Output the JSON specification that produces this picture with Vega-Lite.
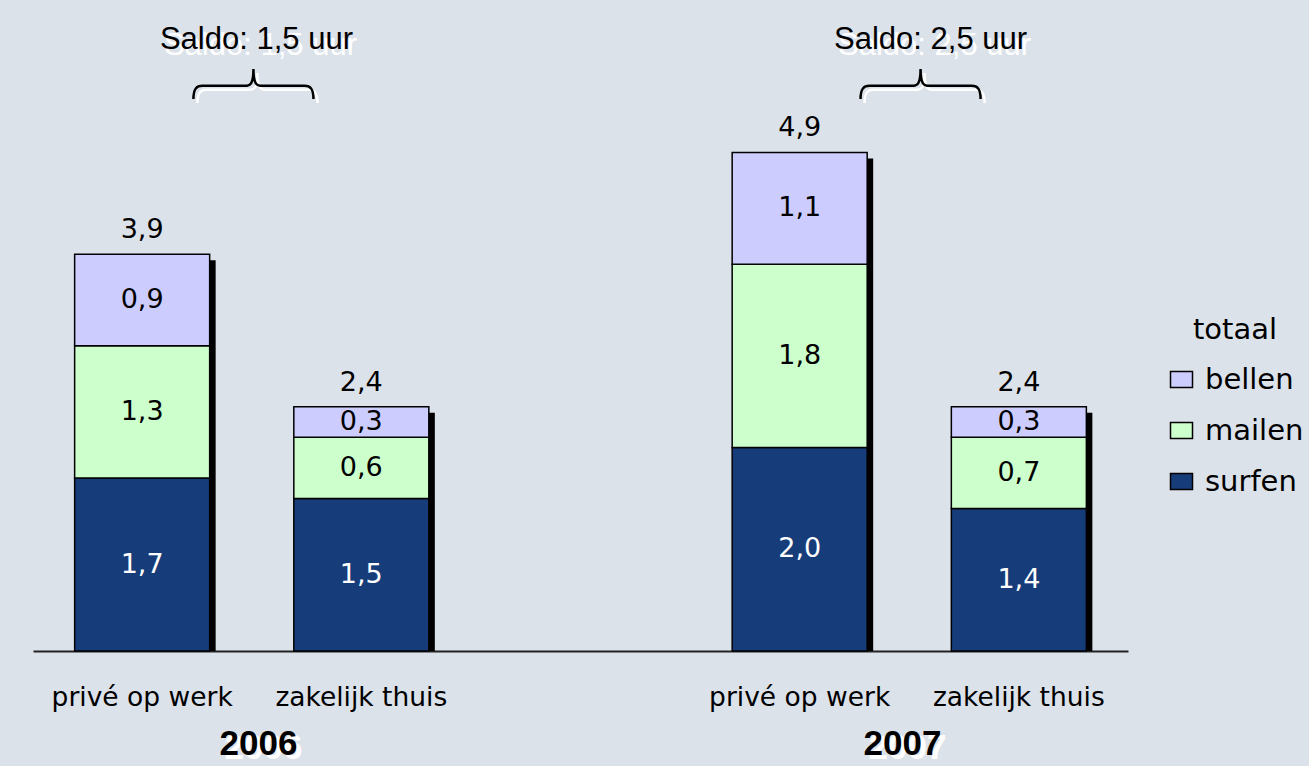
{
  "$schema": "https://vega.github.io/schema/vega-lite/v6.json",
  "width": 1095,
  "height": 640,
  "padding": {"left": 33, "top": 11, "right": 5, "bottom": 5},
  "background": "#dce2ea",
  "config": {
    "view": {"stroke": null},
    "font": "DejaVu Sans",
    "locale": {"number": {"decimal": ",", "thousands": ".", "grouping": [3], "currency": ["€", ""]}}
  },
  "datasets": {
    "bars": [
      {"bar": "2006 privé op werk", "activity": "surfen", "value": 1.7},
      {"bar": "2006 privé op werk", "activity": "mailen", "value": 1.3},
      {"bar": "2006 privé op werk", "activity": "bellen", "value": 0.9},
      {"bar": "2006 zakelijk thuis", "activity": "surfen", "value": 1.5},
      {"bar": "2006 zakelijk thuis", "activity": "mailen", "value": 0.6},
      {"bar": "2006 zakelijk thuis", "activity": "bellen", "value": 0.3},
      {"bar": "2007 privé op werk", "activity": "surfen", "value": 2.0},
      {"bar": "2007 privé op werk", "activity": "mailen", "value": 1.8},
      {"bar": "2007 privé op werk", "activity": "bellen", "value": 1.1},
      {"bar": "2007 zakelijk thuis", "activity": "surfen", "value": 1.4},
      {"bar": "2007 zakelijk thuis", "activity": "mailen", "value": 0.7},
      {"bar": "2007 zakelijk thuis", "activity": "bellen", "value": 0.3}
    ],
    "years": [
      {"year": "2006", "saldo": "Saldo: 1,5 uur"},
      {"year": "2007", "saldo": "Saldo: 2,5 uur"}
    ]
  },
  "layer": [
    {
      "data": {"name": "bars"},
      "encoding": {
        "x": {
          "field": "bar",
          "type": "nominal",
          "sort": null,
          "scale": {
            "domain": ["2006 privé op werk", "2006 zakelijk thuis", "gap", "2007 privé op werk", "2007 zakelijk thuis"],
            "paddingInner": 0.384,
            "paddingOuter": 0.19
          },
          "axis": {
            "title": null,
            "grid": false,
            "domainColor": "#222222",
            "domainWidth": 2,
            "ticks": false,
            "tickSize": 0,
            "labelAngle": 0,
            "labelFont": "DejaVu Sans",
            "labelFontSize": 26.5,
            "labelColor": "black",
            "labelBaseline": "alphabetic",
            "labelPadding": 54,
            "labelOverlap": false,
            "labelLimit": 500,
            "labelExpr": "datum.label == 'gap' ? '' : substring(datum.label, 5)"
          }
        }
      },
      "layer": [
        {
          "mark": {"type": "bar", "color": "black", "xOffset": 6, "x2Offset": 6, "yOffset": 6, "y2Offset": 3},
          "encoding": {
            "y": {"aggregate": "sum", "field": "value", "type": "quantitative", "scale": {"domain": [0, 6.29], "nice": false}, "axis": null}
          }
        },
        {
          "mark": {"type": "bar", "stroke": "black", "strokeWidth": 1.5},
          "encoding": {
            "y": {"field": "value", "type": "quantitative", "stack": "zero", "scale": {"domain": [0, 6.29], "nice": false}, "axis": null},
            "color": {
              "field": "activity",
              "type": "nominal",
              "scale": {"domain": ["bellen", "mailen", "surfen"], "range": ["#ccccff", "#ccffcc", "#173c7a"]},
              "legend": {
                "title": "totaal",
                "orient": "none",
                "legendX": 1134,
                "legendY": 305,
                "padding": 0,
                "titleFont": "DejaVu Sans",
                "titleFontSize": 29,
                "titleFontWeight": "normal",
                "titleColor": "black",
                "titleAnchor": "middle",
                "titlePadding": 20,
                "labelFont": "DejaVu Sans",
                "labelFontSize": 29,
                "labelColor": "black",
                "labelOffset": 9,
                "symbolType": "M-1,-0.73H1V0.73H-1Z",
                "symbolSize": 484,
                "symbolStrokeColor": "black",
                "symbolStrokeWidth": 1.5,
                "rowPadding": 21
              }
            },
            "order": {"field": "activity", "sort": "descending"}
          }
        },
        {
          "mark": {"type": "text", "fontSize": 27, "baseline": "middle", "font": "DejaVu Sans"},
          "encoding": {
            "y": {"field": "value", "type": "quantitative", "stack": "zero", "bandPosition": 0.5, "scale": {"domain": [0, 6.29], "nice": false}, "axis": null},
            "order": {"field": "activity", "sort": "descending"},
            "text": {"field": "value", "type": "quantitative", "format": ".1f"},
            "color": {"condition": {"test": "datum.activity == 'surfen'", "value": "white"}, "value": "black"}
          }
        },
        {
          "mark": {"type": "text", "fontSize": 27, "baseline": "alphabetic", "dy": -16, "color": "black", "font": "DejaVu Sans"},
          "encoding": {
            "y": {"aggregate": "sum", "field": "value", "type": "quantitative", "scale": {"domain": [0, 6.29], "nice": false}, "axis": null},
            "text": {"aggregate": "sum", "field": "value", "type": "quantitative", "format": ".1f"}
          }
        }
      ]
    },
    {
      "data": {"name": "years"},
      "encoding": {
        "x": {"field": "year", "type": "nominal", "scale": {"type": "point", "domain": ["2006", "2007"], "padding": 0.35}, "axis": null}
      },
      "layer": [
        {
          "mark": {"type": "text", "font": "Liberation Sans", "fontWeight": "bold", "fontSize": 35, "baseline": "alphabetic", "color": "white", "xOffset": 5, "yOffset": 4},
          "encoding": {
            "y": {"datum": -1.022, "type": "quantitative", "scale": {"domain": [0, 6.29], "nice": false}},
            "text": {"field": "year"}
          }
        },
        {
          "mark": {"type": "text", "font": "Liberation Sans", "fontWeight": "bold", "fontSize": 35, "baseline": "alphabetic", "color": "black"},
          "encoding": {
            "y": {"datum": -1.022, "type": "quantitative", "scale": {"domain": [0, 6.29], "nice": false}},
            "text": {"field": "year"}
          }
        },
        {
          "mark": {"type": "text", "font": "Liberation Sans", "fontSize": 31, "baseline": "alphabetic", "color": "white", "xOffset": {"expr": "datum.year == '2007' ? 32 : 2"}, "yOffset": 6},
          "encoding": {
            "y": {"datum": 5.92, "type": "quantitative", "scale": {"domain": [0, 6.29], "nice": false}},
            "text": {"field": "saldo"}
          }
        },
        {
          "mark": {"type": "text", "font": "Liberation Sans", "fontSize": 31, "baseline": "alphabetic", "color": "black", "xOffset": {"expr": "datum.year == '2007' ? 28 : -2"}},
          "encoding": {
            "y": {"datum": 5.92, "type": "quantitative", "scale": {"domain": [0, 6.29], "nice": false}},
            "text": {"field": "saldo"}
          }
        },
        {
          "mark": {"type": "point", "shape": "M-1,0.25C-1,0.08,-0.95,0.03,-0.85,0.03L-0.15,0.03C-0.05,0.03,0,0,0,-0.25C0,0,0.05,0.03,0.15,0.03L0.85,0.03C0.95,0.03,1,0.08,1,0.25", "size": 14400, "filled": false, "opacity": 1, "stroke": "white", "strokeWidth": 2.5, "xOffset": {"expr": "datum.year == '2007' ? 22 : -1"}, "yOffset": 4},
          "encoding": {
            "y": {"datum": 5.572, "type": "quantitative", "scale": {"domain": [0, 6.29], "nice": false}}
          }
        },
        {
          "mark": {"type": "point", "shape": "M-1,0.25C-1,0.08,-0.95,0.03,-0.85,0.03L-0.15,0.03C-0.05,0.03,0,0,0,-0.25C0,0,0.05,0.03,0.15,0.03L0.85,0.03C0.95,0.03,1,0.08,1,0.25", "size": 14400, "filled": false, "opacity": 1, "stroke": "black", "strokeWidth": 2.5, "xOffset": {"expr": "datum.year == '2007' ? 18 : -5"}},
          "encoding": {
            "y": {"datum": 5.572, "type": "quantitative", "scale": {"domain": [0, 6.29], "nice": false}}
          }
        }
      ]
    }
  ],
  "resolve": {"scale": {"x": "independent"}}
}
